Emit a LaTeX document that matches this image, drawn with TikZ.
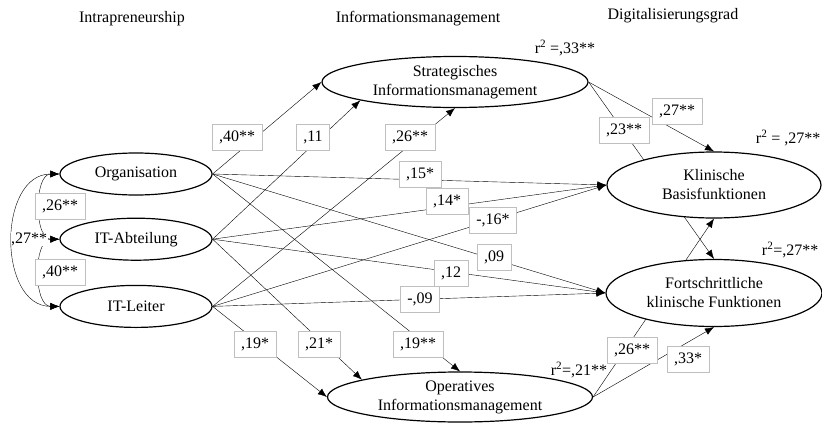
\documentclass[tikz,border=0pt]{standalone}
\usepackage{fontspec}
\setmainfont{Liberation Serif}
\usetikzlibrary{arrows.meta, positioning, shapes.geometric, backgrounds}

\begin{document}
\begin{tikzpicture}[
    x=1pt, y=-1pt,
    font=\fontsize{16}{19}\selectfont,
    line width=1.2pt,
    latent/.style={ellipse, draw, fill=white, inner sep=0pt, align=center},
    exo/.style={latent, minimum width=152pt, minimum height=42pt},
    effect/.style={-{Latex[length=9pt, width=7pt]}},
    corr/.style={{Latex[length=9pt, width=7pt]}-{Latex[length=9pt, width=7pt]}},
    coef/.style={draw=black!25, line width=0.8pt, fill=white, inner xsep=7pt, inner ysep=0pt, minimum height=26pt}
]
\useasboundingbox (0,0) rectangle (822,423);

% Spaltenkoepfe
\node (hintra) at (132,19) {Intrapreneurship};
\node (hinfo) at (418,19) {Informationsmanagement};
\node (hdigi) at (673,16) {Digitalisierungsgrad};

% latente Variablen
\node[exo] (org) at (136,174) {Organisation};
\node[exo, below=22pt of org] (itab) {IT-Abteilung};
\node[exo, below=24pt of itab] (itle) {IT-Leiter};

\node[latent, minimum width=266pt, minimum height=51pt] (strat) at (455,82) {Strategisches\\Informationsmanagement};
\node[latent, minimum width=265pt, minimum height=50pt] (oper) at (460,397) {Operatives\\Informationsmanagement};
\node[latent, minimum width=214pt, minimum height=66pt] (klin) at (714,185) {Klinische\\Basisfunktionen};
\node[latent, minimum width=216pt, minimum height=67pt] (fort) at (714,293) {Fortschrittliche\\klinische Funktionen};

% erklaerte Varianz
\node (r2strat) at (565,48) {r\textsuperscript{2} =,33**};
\node[anchor=east, inner sep=0pt] (r2klin) at (821,138) {r\textsuperscript{2} = ,27**};
\node[anchor=east, inner sep=0pt] (r2fort) at (819,250) {r\textsuperscript{2}=,27**};
\node (r2oper) at (579,370) {r\textsuperscript{2}=,21**};

% Pfade
\begin{scope}[on background layer]
\draw[effect] (org.east) -- (strat.west);
\draw[effect] (itab.east) -- (strat.191);
\draw[effect] (itle.east) -- (strat.south);
\draw[effect] (org.east) -- (klin.west);
\draw[effect] (itab.east) -- (klin.west);
\draw[effect] (itle.east) -- (klin.west);
\draw[effect] (org.east) -- (fort.west);
\draw[effect] (itab.east) -- (fort.west);
\draw[effect] (itle.east) -- (fort.west);
\draw[effect] (org.east) -- (oper.north);
\draw[effect] (itab.east) -- (oper.170);
\draw[effect] (itle.east) -- (oper.west);
\draw[effect] (strat.east) -- (klin.north);
\draw[effect] (strat.east) -- (fort.north);
\draw[effect] (oper.east) -- (klin.south);
\draw[effect] (oper.east) -- (fort.south);
\draw[corr] (org.west) to[out=180, in=180] (itab.west);
\draw[corr] (itab.west) to[out=180, in=180] (itle.west);
\draw[corr] (org.west) to[out=180, in=180, looseness=1.2] (itle.west);
\end{scope}

% Koeffizienten
\node[coef] (corgstrat) at (237,137) {,40**};
\node[coef] (citabstrat) at (313,137) {,11};
\node[coef] (citlestrat) at (410,137) {,26**};
\node[coef] (cstratfort) at (624,130) {,23**};
\node[coef] (cstratklin) at (677,111) {,27**};
\node[coef] (corgitab) at (60,206) {,26**};
\node[coef] (citabitle) at (60,272) {,40**};
\node[fill=white, inner sep=0.5pt] (corgitle) at (29,239) {,27**};
\node[coef] (corgklin) at (420,174) {,15*};
\node[coef] (citabklin) at (447,201) {,14*};
\node[coef] (citleklin) at (493,220) {-,16*};
\node[coef] (corgfort) at (494,257) {,09};
\node[coef] (citabfort) at (451,273) {,12};
\node[coef] (citlefort) at (420,299) {-,09};
\node[coef] (citleoper) at (255,344) {,19*};
\node[coef] (citaboper) at (319,344) {,21*};
\node[coef] (corgoper) at (418,344) {,19**};
\node[coef] (coperklin) at (632,350) {,26**};
\node[coef] (coperfort) at (688,359) {,33*};
\end{tikzpicture}
\end{document}
